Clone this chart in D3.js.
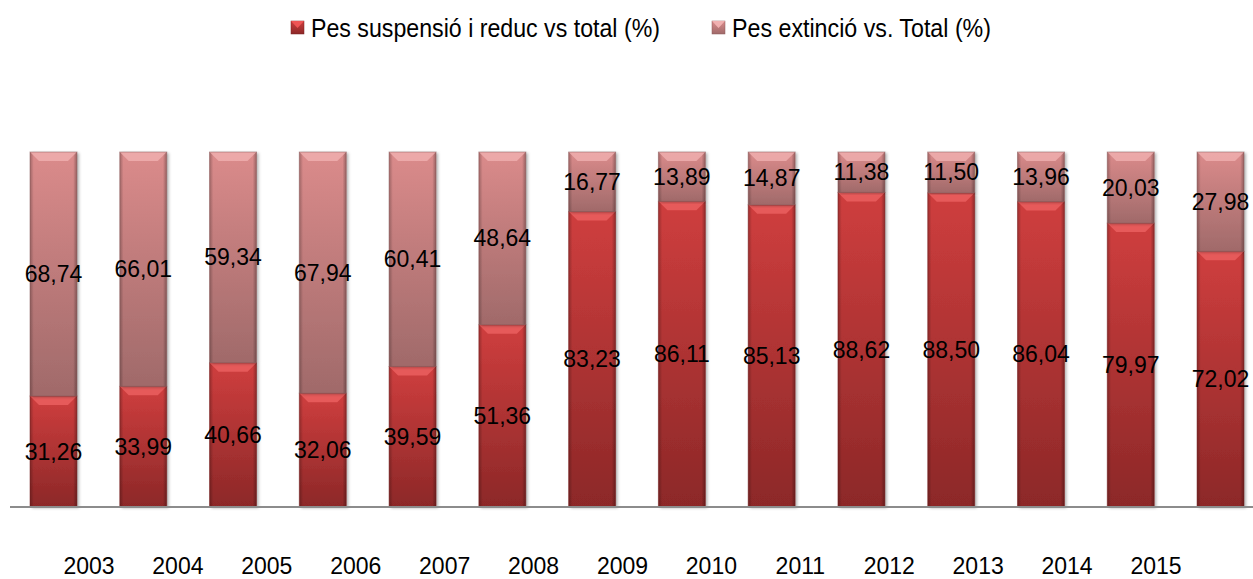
<!DOCTYPE html>
<html lang="ca">
<head>
<meta charset="UTF-8">
<title>Pes suspensió vs extinció</title>
<script src="https://cdn.jsdelivr.net/npm/d3@7"></script>
<style>
  body { margin: 0; background: #fff; }
  text { font-family: "Liberation Sans", Arial, sans-serif; fill: #000; }
  .legend text { font-size: 25px; }
  .val { font-size: 23px; text-anchor: middle; }
  .year { font-size: 23px; text-anchor: middle; }
</style>
</head>
<body>
<div id="chart"></div>
<script>
const categories = ["2003","2004","2005","2006","2007","2008","2009","2010","2011","2012","2013","2014","2015","2016"];
const yearLabels = ["2003","2004","2005","2006","2007","2008","2009","2010","2011","2012","2013","2014","2015"];
const suspensio = [31.26, 33.99, 40.66, 32.06, 39.59, 51.36, 83.23, 86.11, 85.13, 88.62, 88.50, 86.04, 79.97, 72.02];
const extincio  = [68.74, 66.01, 59.34, 67.94, 60.41, 48.64, 16.77, 13.89, 14.87, 11.38, 11.50, 13.96, 20.03, 27.98];
const seriesNames = ["Pes suspensió i reduc vs total (%)", "Pes extinció vs. Total (%)"];

const width = 1253, height = 579;

const svg = d3.select("#chart").append("svg")
    .attr("width", width)
    .attr("height", height);

const defs = svg.append("defs");
// degradats per serie
const grads = [
  {id: "g0", top: "#cf3e3e", bottom: "#8c2828"},
  {id: "g1", top: "#db8b8b", bottom: "#a06a6a"}
];
grads.forEach(g => {
  const lg = defs.append("linearGradient").attr("id", g.id)
      .attr("x1", 0).attr("y1", 0).attr("x2", 0).attr("y2", 1);
  lg.append("stop").attr("offset", "0%").attr("stop-color", g.top);
  lg.append("stop").attr("offset", "100%").attr("stop-color", g.bottom);
});
// ombra als costats
const side = defs.append("linearGradient").attr("id", "side")
    .attr("x1", 0).attr("y1", 0).attr("x2", 1).attr("y2", 0);
side.append("stop").attr("offset", "0%").attr("stop-color", "#000").attr("stop-opacity", 0.25);
side.append("stop").attr("offset", "8%").attr("stop-color", "#000").attr("stop-opacity", 0);
side.append("stop").attr("offset", "92%").attr("stop-color", "#000").attr("stop-opacity", 0);
side.append("stop").attr("offset", "100%").attr("stop-color", "#000").attr("stop-opacity", 0.3);

const filter = defs.append("filter").attr("id", "shadow")
    .attr("x", "-20%").attr("y", "-5%").attr("width", "140%").attr("height", "110%");
filter.append("feDropShadow").attr("dx", 2).attr("dy", 1).attr("stdDeviation", 1.5)
    .attr("flood-color", "#000").attr("flood-opacity", 0.3);

const x = d3.scaleBand()
    .domain(categories)
    .range([30, 1244])
    .paddingInner(0.477)
    .paddingOuter(0);

const y = d3.scaleLinear()
    .domain([0, 100])
    .range([507, 152]);

const xLabel = d3.scalePoint()
    .domain(yearLabels)
    .range([89, 1156]);

const data = categories.map((c, i) => ({cat: c, s: suspensio[i], e: extincio[i]}));
const stack = d3.stack().keys(["s", "e"]);
const layers = stack(data);

const bev = 9;
layers.forEach((layer, li) => {
  const g = svg.append("g");
  const segs = g.selectAll("g.seg")
      .data(layer)
      .enter().append("g").attr("class", "seg");

  segs.append("rect")
      .attr("x", d => x(d.data.cat))
      .attr("y", d => y(d[1]))
      .attr("width", x.bandwidth())
      .attr("height", d => y(d[0]) - y(d[1]))
      .attr("fill", `url(#g${li})`)
      .attr("filter", "url(#shadow)");

  segs.append("rect")
      .attr("x", d => x(d.data.cat))
      .attr("y", d => y(d[1]))
      .attr("width", x.bandwidth())
      .attr("height", d => y(d[0]) - y(d[1]))
      .attr("fill", "url(#side)");

  // bisell superior
  segs.append("path")
      .attr("d", d => {
        const x0 = x(d.data.cat), x1 = x0 + x.bandwidth(), t = y(d[1]);
        return `M${x0},${t}L${x1},${t}L${x1 - bev},${t + bev}L${x0 + bev},${t + bev}Z`;
      })
      .attr("fill", li === 0 ? "#ec6262" : "#f0b0b0")
      .attr("opacity", 0.8);

  segs.append("rect")
      .attr("x", d => x(d.data.cat))
      .attr("y", d => y(d[1]))
      .attr("width", x.bandwidth())
      .attr("height", d => y(d[0]) - y(d[1]))
      .attr("fill", "none")
      .attr("stroke", li === 0 ? "#7a2020" : "#8a5a5a")
      .attr("stroke-opacity", 0.5)
      .attr("stroke-width", 1);

  segs.append("text")
      .attr("class", "val")
      .attr("x", d => x(d.data.cat) + x.bandwidth() / 2)
      .attr("y", d => (y(d[0]) + y(d[1])) / 2)
      .attr("dy", "0.35em")
      .text(d => d3.format(".2f")(d[1] - d[0]).replace(".", ","));
});

// línia base
svg.append("line")
    .attr("x1", 10).attr("x2", width)
    .attr("y1", y(0)).attr("y2", y(0))
    .attr("stroke", "#8c8c8c").attr("stroke-width", 2);

svg.append("g").selectAll("text")
    .data(yearLabels)
    .enter().append("text")
    .attr("class", "year")
    .attr("x", d => xLabel(d))
    .attr("y", 574)
    .text(d => d);

// llegenda
const legend = svg.append("g").attr("class", "legend");
const legX = [291, 712];
const legW = [349, 259];
seriesNames.forEach((name, i) => {
  legend.append("rect")
      .attr("x", legX[i]).attr("y", 21)
      .attr("width", 13).attr("height", 13)
      .attr("fill", `url(#g${i})`)
      .attr("stroke", i === 0 ? "#7a2020" : "#8a5a5a").attr("stroke-width", 0.5);
  legend.append("path")
      .attr("d", `M${legX[i]},21L${legX[i] + 13},21L${legX[i] + 6.5},28Z`)
      .attr("fill", i === 0 ? "#ee5555" : "#f0b0b0");
  legend.append("text")
      .attr("x", legX[i] + 20).attr("y", 37)
      .attr("textLength", legW[i])
      .attr("lengthAdjust", "spacingAndGlyphs")
      .text(name);
});
</script>
</body>
</html>
